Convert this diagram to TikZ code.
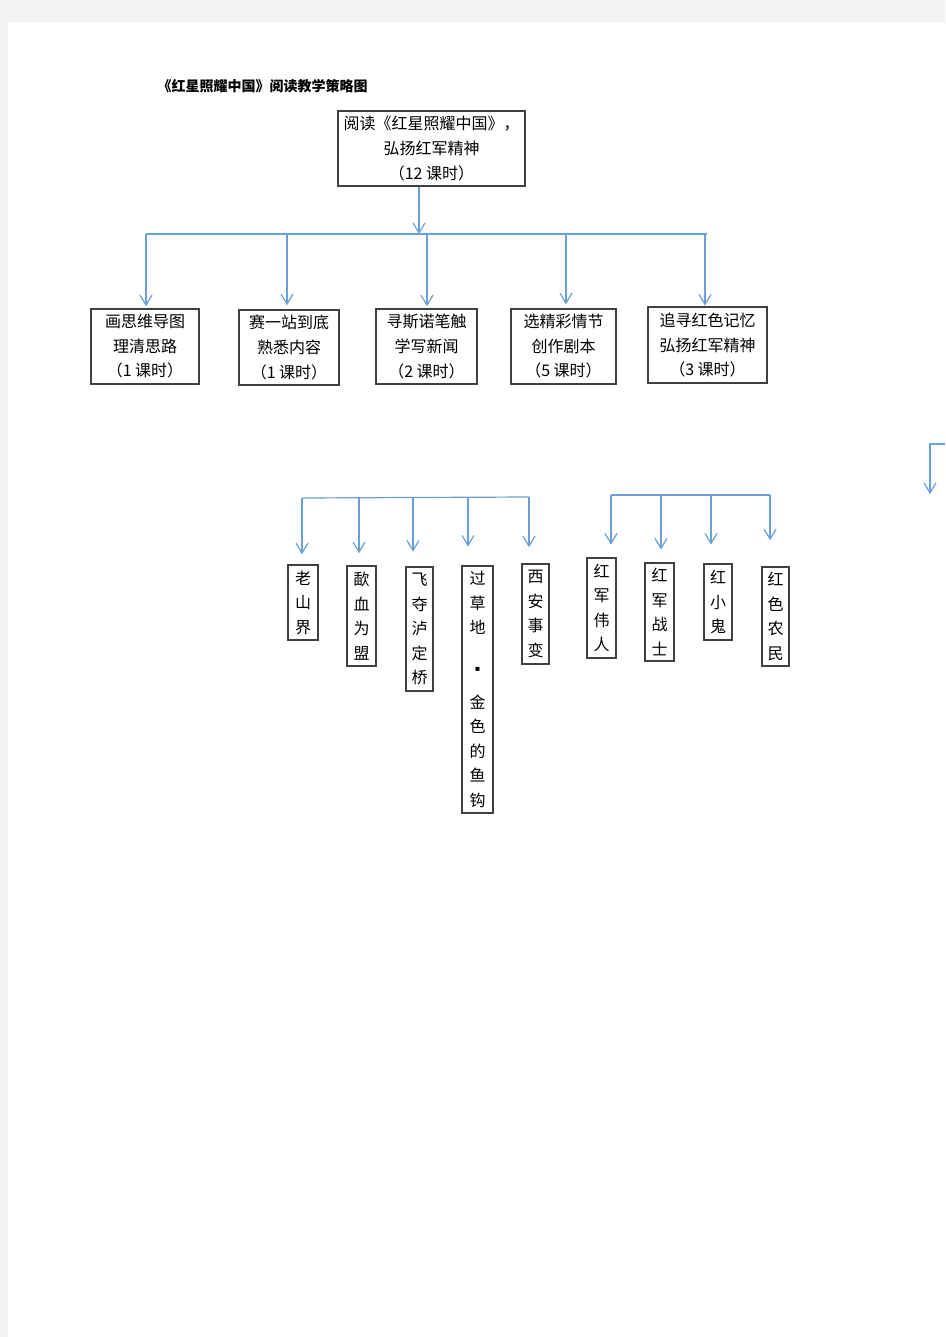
\documentclass[tikz,border=0pt]{standalone}
\usepackage{fontspec}
\setmainfont{Noto Sans CJK SC}
\newfontfamily\dejavu{DejaVu Sans}
\usetikzlibrary{arrows.meta}
\definecolor{conn}{HTML}{6A9FD8}
\definecolor{boxline}{HTML}{404040}
\definecolor{pagebg}{HTML}{F3F3F3}
\begin{document}
\begin{tikzpicture}[x=0.75pt,y=-0.75pt,
  arr/.style={draw=conn, line width=0.9pt, -{Straight Barb[length=7.5pt,width=9pt,line width=0.9pt]}},
  bar/.style={draw=conn, line width=0.9pt},
  sz/.style 2 args={minimum width=#1*0.75pt, minimum height=#2*0.75pt},
  hbox/.style={draw=boxline, line width=1.1pt, align=center, inner sep=0pt, font=\fontsize{12pt}{18.4pt}\selectfont},
  vbox/.style={draw=boxline, line width=1.1pt, align=center, inner sep=0pt, font=\fontsize{12pt}{18.4pt}\selectfont},
  titlestyle/.style={inner sep=0pt, font=\fontsize{10.5pt}{12pt}\selectfont\bfseries}
]
\useasboundingbox (0,0) rectangle (945,1337);
\fill[pagebg] (0,0) rectangle (945,1337);
\fill[white] (8,22) rectangle (945,1337);

\node[titlestyle] (title) at (262.5,86) {《红星照耀中国》阅读教学策略图};

% top box
\node[hbox, sz={187}{75}] (top) at (431.5,148.5) {阅读《红星照耀中国》，\\弘扬红军精神\\（12 课时）};

% second level boxes
\node[hbox, sz={108}{75}] (b1) at (145,346.5) {画思维导图\\理清思路\\（1 课时）};
\node[hbox, sz={100}{75}] (b2) at (289,347.5) {赛一站到底\\熟悉内容\\（1 课时）};
\node[hbox, sz={101}{75}] (b3) at (426.5,346.5) {寻斯诺笔触\\学写新闻\\（2 课时）};
\node[hbox, sz={105}{75}] (b4) at (563.5,346.5) {选精彩情节\\创作剧本\\（5 课时）};
\node[hbox, sz={119}{76}] (b5) at (707.5,345) {追寻红色记忆\\弘扬红军精神\\（3 课时）};

% top connectors
\coordinate (tj) at (419,234);
\coordinate (c1) at (146,234);
\coordinate (c2) at (287,234);
\coordinate (c3) at (427,234);
\coordinate (c4) at (566,234);
\coordinate (c5) at (705,234);
\coordinate (tr) at (707,234);
\draw[bar] (c1) -- (tr);
\draw[arr] (top.south -| tj) -- (tj);
\draw[arr, shorten >=1.5pt] (c1) -- (c1 |- b1.north);
\draw[arr, shorten >=3pt] (c2) -- (c2 |- b2.north);
\draw[arr, shorten >=1.5pt] (c3) -- (c3 |- b3.north);
\draw[arr, shorten >=3pt] (c4) -- (c4 |- b4.north);
\draw[arr, shorten >=0.5pt] (c5) -- (c5 |- b5.north);

% lower left group
\node[vbox, sz={30}{75}] (v1) at (303,602.5) {老\\山\\界};
\node[vbox, sz={29}{100}] (v2) at (361.5,616) {歃\\血\\为\\盟};
\node[vbox, sz={27}{124}] (v3) at (419.5,629) {飞\\夺\\泸\\定\\桥};
\node[vbox, sz={31}{247}] (v4) at (477.5,689.5) {过\\草\\地\\[9.5pt]{\dejavu\fontsize{6pt}{7pt}\selectfont ▪}\\[9.5pt]金\\色\\的\\鱼\\钩};
\node[vbox, sz={27}{100}] (v5) at (535.5,614) {西\\安\\事\\变};

\coordinate (l1) at (302,498);
\coordinate (l2) at (359,498);
\coordinate (l3) at (413,497.5);
\coordinate (l4) at (468,497.5);
\coordinate (l5) at (529,497);
\draw[bar] (l1) -- (l5);
\draw[arr, shorten >=7.5pt] (l1) -- (l1 |- v1.north);
\draw[arr, shorten >=9pt] (l2) -- (l2 |- v2.north);
\draw[arr, shorten >=11pt] (l3) -- (l3 |- v3.north);
\draw[arr, shorten >=14pt] (l4) -- (l4 |- v4.north);
\draw[arr, shorten >=12pt] (l5) -- (l5 |- v5.north);

% lower right group
\node[vbox, sz={29}{100}] (w1) at (601.5,608) {红\\军\\伟\\人};
\node[vbox, sz={29}{98}] (w2) at (659.5,612) {红\\军\\战\\士};
\node[vbox, sz={28}{76}] (w3) at (718,602) {红\\小\\鬼};
\node[vbox, sz={27}{99}] (w4) at (775.5,616.5) {红\\色\\农\\民};

\coordinate (r1) at (611,495);
\coordinate (r2) at (661,495);
\coordinate (r3) at (711,495);
\coordinate (r4) at (770,495);
\draw[bar] (r1) -- (r4);
\draw[arr, shorten >=9.5pt] (r1) -- (r1 |- w1.north);
\draw[arr, shorten >=9.5pt] (r2) -- (r2 |- w2.north);
\draw[arr, shorten >=14pt] (r3) -- (r3 |- w3.north);
\draw[arr, shorten >=19.5pt] (r4) -- (r4 |- w4.north);

% partial connector at right edge
\coordinate (e0) at (945,444);
\coordinate (e1) at (930,444);
\coordinate (e2) at (930,494);
\draw[arr] (e0) -- (e1) -- (e2);
\end{tikzpicture}
\end{document}
